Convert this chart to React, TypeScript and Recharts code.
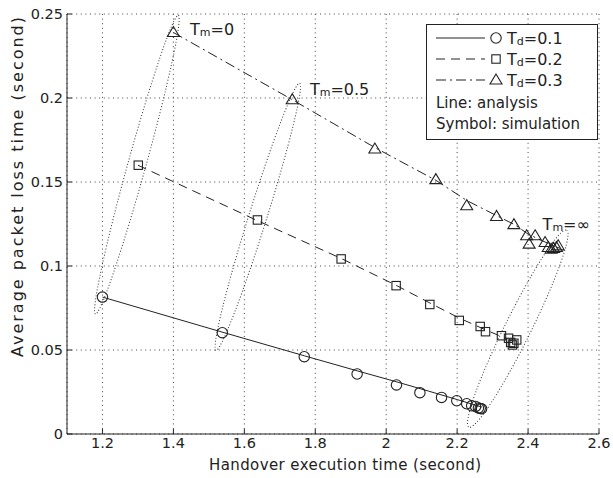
import {
  ScatterChart,
  Scatter,
  XAxis,
  YAxis,
  CartesianGrid,
  ReferenceDot,
  Legend,
} from "recharts";

const X_TICKS = [1.2, 1.4, 1.6, 1.8, 2, 2.2, 2.4, 2.6];
const Y_TICKS = [0, 0.05, 0.1, 0.15, 0.2, 0.25];

// simulation results (symbols)
const simTd01X = [1.2, 1.538, 1.769, 1.918, 2.029, 2.095, 2.156, 2.199, 2.227, 2.241, 2.252, 2.26, 2.265, 2.269];
const simTd01Y = [0.0815, 0.0603, 0.046, 0.0357, 0.0292, 0.0246, 0.0218, 0.0198, 0.018, 0.0168, 0.0164, 0.0155, 0.0152, 0.015];
const simTd02X = [1.301, 1.637, 1.873, 2.028, 2.123, 2.206, 2.265, 2.28, 2.325, 2.345, 2.351, 2.356, 2.36, 2.368];
const simTd02Y = [0.16, 0.1274, 0.1042, 0.0883, 0.0771, 0.0676, 0.064, 0.0609, 0.0585, 0.057, 0.0545, 0.053, 0.054, 0.056];
const simTd03X = [1.4, 1.735, 1.968, 2.14, 2.227, 2.311, 2.36, 2.396, 2.403, 2.42, 2.448, 2.457, 2.465, 2.472, 2.48, 2.485];
const simTd03Y = [0.239, 0.199, 0.1696, 0.1514, 0.1359, 0.1295, 0.1246, 0.118, 0.113, 0.118, 0.114, 0.111, 0.11, 0.1105, 0.111, 0.112];

// analysis results (lines)
const anaTd01X = [1.2, 1.54, 1.77, 1.92, 2.03, 2.12, 2.2, 2.27];
const anaTd01Y = [0.0815, 0.0605, 0.0465, 0.0375, 0.031, 0.0255, 0.0205, 0.016];
const anaTd02X = [1.3, 1.637, 1.873, 2.028, 2.123, 2.206, 2.28, 2.325, 2.37];
const anaTd02Y = [0.16, 0.127, 0.1045, 0.0885, 0.078, 0.069, 0.062, 0.058, 0.0545];
const anaTd03X = [1.4, 1.735, 1.968, 2.14, 2.227, 2.311, 2.363, 2.4, 2.44, 2.49];
const anaTd03Y = [0.239, 0.199, 0.1705, 0.151, 0.139, 0.13, 0.1245, 0.119, 0.115, 0.1105];

const zip = (xs: number[], ys: number[]) => xs.map((x, i) => ({ x, y: ys[i] }));

const FONT = "'DejaVu Sans', sans-serif";
const INK = "#222";

type Marker = "circle" | "square" | "triangle";

const SERIES = [
  { td: "0.1", marker: "circle" as Marker, dash: undefined, sim: zip(simTd01X, simTd01Y), ana: zip(anaTd01X, anaTd01Y) },
  { td: "0.2", marker: "square" as Marker, dash: "9 6", sim: zip(simTd02X, simTd02Y), ana: zip(anaTd02X, anaTd02Y) },
  { td: "0.3", marker: "triangle" as Marker, dash: "10 4 2 4", sim: zip(simTd03X, simTd03Y), ana: zip(anaTd03X, anaTd03Y) },
];

// Tm groups: ellipse centre (data units), radii (px), tilt (deg)
const GROUPS = [
  { cx: 1.297, cy: 0.1603, rx: 155, ry: 9, angle: -74.5 },
  { cx: 1.638, cy: 0.1293, rx: 140, ry: 9, angle: -72.6 },
  { cx: 2.371, cy: 0.0627, rx: 110, ry: 13, angle: -63.6 },
];
const TM_LABELS = [
  { x: 1.447, y: 0.2377, text: "=0" },
  { x: 1.785, y: 0.202, text: "=0.5" },
  { x: 2.441, y: 0.1216, text: "=\u221e" },
];

function drawMarker(kind: Marker, cx: number, cy: number) {
  const common = { fill: "none", stroke: INK, strokeWidth: 1.1 };
  if (kind === "circle") return <circle cx={cx} cy={cy} r={5.2} {...common} />;
  if (kind === "square") return <rect x={cx - 4.2} y={cy - 4.2} width={8.4} height={8.4} {...common} />;
  return <polygon points={`${cx},${cy - 6} ${cx - 6},${cy + 4} ${cx + 6},${cy + 4}`} {...common} />;
}

function LegendBox() {
  const rows = SERIES.map((s, i) => {
    const y = 14 + i * 21;
    return (
      <g key={s.td}>
        <line x1={10} x2={59} y1={y} y2={y} stroke={INK} strokeWidth={1} strokeDasharray={s.dash} />
        {drawMarker(s.marker, 70, y)}
        <text x={81} y={y + 6} fontSize={16} fontFamily={FONT} fill={INK}>
          T<tspan fontSize={11} dy={1}>d</tspan>
          <tspan dy={-1}>={s.td}</tspan>
        </text>
      </g>
    );
  });
  return (
    <svg width={172} height={116} style={{ display: "block" }}>
      <rect x={0.5} y={0.5} width={171} height={115} fill="#fff" stroke={INK} strokeWidth={1} />
      {rows}
      <text x={10} y={84} fontSize={15} fontFamily={FONT} fill={INK}>Line: analysis</text>
      <text x={10} y={105} fontSize={15} fontFamily={FONT} fill={INK}>Symbol: simulation</text>
    </svg>
  );
}

const tickStyle = { fontSize: 14.5, fontFamily: FONT, fill: INK };

export default function App() {
  return (
    <div style={{ position: "absolute", left: 0, top: 0, width: 613, height: 478, background: "#fff" }}>
      <ScatterChart width={613} height={478} margin={{ top: 14, right: 14, bottom: 0, left: 0 }}>
        <CartesianGrid stroke="#444" strokeDasharray="1 3.6" />
        <XAxis
          type="number"
          dataKey="x"
          domain={[1.1, 2.6]}
          ticks={X_TICKS}
          allowDataOverflow
          height={44}
          stroke={INK}
          tickSize={-5}
          tickMargin={9}
          tick={tickStyle}
          label={{
            content: () => (
              <text
                x={345}
                y={470}
                textAnchor="middle"
                fontSize={15}
                fontFamily={FONT}
                fill={INK}
                textLength={272}
                lengthAdjust="spacing"
              >
                Handover execution time (second)
              </text>
            ),
          }}
        />
        <XAxis
          xAxisId="top"
          orientation="top"
          type="number"
          domain={[1.1, 2.6]}
          ticks={X_TICKS}
          allowDataOverflow
          height={0}
          stroke={INK}
          tickSize={-5}
          tickFormatter={() => ""}
        />
        <YAxis
          type="number"
          dataKey="y"
          domain={[0, 0.25]}
          ticks={Y_TICKS}
          allowDataOverflow
          width={67}
          stroke={INK}
          tickSize={-5}
          tickMargin={9}
          tick={tickStyle}
          label={{
            content: () => (
              <text
                x={23}
                y={187}
                transform="rotate(-90 23 187)"
                textAnchor="middle"
                fontSize={16}
                fontFamily={FONT}
                fill={INK}
                textLength={340}
                lengthAdjust="spacing"
              >
                Average packet loss time (second)
              </text>
            ),
          }}
        />
        <YAxis
          yAxisId="right"
          orientation="right"
          type="number"
          domain={[0, 0.25]}
          ticks={Y_TICKS}
          allowDataOverflow
          width={0}
          stroke={INK}
          tickSize={-5}
          tickFormatter={() => ""}
        />
        {SERIES.map((s) => (
          <Scatter
            key={`ana-${s.td}`}
            name={`ana-${s.td}`}
            data={s.ana}
            line={{ stroke: INK, strokeWidth: 1, strokeDasharray: s.dash }}
            lineType="joint"
            shape={() => <g />}
            isAnimationActive={false}
          />
        ))}
        {SERIES.map((s) => (
          <Scatter
            key={`sim-${s.td}`}
            name={`Td=${s.td}`}
            data={s.sim}
            shape={(p: any) => drawMarker(s.marker, p.cx, p.cy)}
            isAnimationActive={false}
          />
        ))}
        {GROUPS.map((g, i) => (
          <ReferenceDot
            key={`grp-${i}`}
            x={g.cx}
            y={g.cy}
            shape={(p: any) => (
              <ellipse
                cx={p.cx}
                cy={p.cy}
                rx={g.rx}
                ry={g.ry}
                transform={`rotate(${g.angle} ${p.cx} ${p.cy})`}
                fill="none"
                stroke="#333"
                strokeWidth={1}
                strokeDasharray="1 2"
              />
            )}
          />
        ))}
        {TM_LABELS.map((l, i) => (
          <ReferenceDot
            key={`tm-${i}`}
            x={l.x}
            y={l.y}
            shape={(p: any) => (
              <text x={p.cx} y={p.cy} fontSize={16} fontFamily={FONT} fill={INK}>
                T<tspan fontSize={11} dy={1}>m</tspan>
                <tspan dy={-1}>{l.text}</tspan>
              </text>
            )}
          />
        ))}
        <Legend
          layout="horizontal"
          align="center"
          verticalAlign="middle"
          wrapperStyle={{ position: "absolute", left: 426, top: 24, width: 172, height: 116 }}
          content={() => <LegendBox />}
        />
      </ScatterChart>
    </div>
  );
}
